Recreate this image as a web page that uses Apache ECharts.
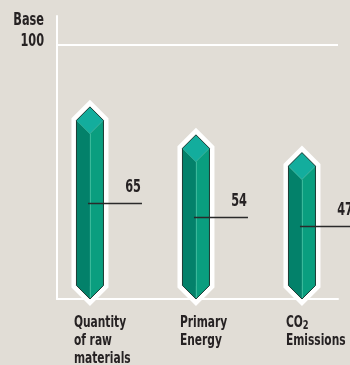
<!DOCTYPE html>
<html>
<head>
<meta charset="utf-8">
<script src="https://cdn.jsdelivr.net/npm/echarts@6/dist/echarts.min.js"></script>
<style>
html,body{margin:0;padding:0;background:#e1ddd6;}
#c{width:350px;height:365px;}
</style>
</head>
<body>
<div id="c"></div>
<script>
var categories = ['Quantity\nof raw\nmaterials', 'Primary\nEnergy', 'CO{sub|2}\nEmissions'];
var values = [65, 54, 47];
var baseLabel = 'Base';
var baseValue = 100;

var FONT = "'DejaVu Sans Condensed', 'DejaVu Sans', sans-serif";
var TXT = '#262223';
var SX = 0.74;
var X_MIN = -0.311, X_MAX = 2.34;

var chart = echarts.init(document.getElementById('c'), null, {renderer: 'canvas'});

var data = values.map(function (v, i) { return [i, v]; });

function renderItem(params, api) {
  var idx = api.value(0);
  var val = api.value(1);
  var f = api.coord([idx, val]);
  var b = api.coord([idx, 0]);
  var cx = f[0], yf = f[1], yb = b[1];
  var w = 13.5, d = 13.5;
  var hex = [[cx, yf - 2 * d], [cx + w, yf - d], [cx + w, yb - d], [cx, yb], [cx - w, yb - d], [cx - w, yf - d]];
  var midY = Math.round((yb + yf - 2 * d) / 2) + 0.5;
  var children = [
    {type: 'polygon', shape: {points: hex}, style: {fill: '#ffffff', stroke: '#ffffff', lineWidth: 10, lineJoin: 'miter', miterLimit: 2}},
    {type: 'polygon', shape: {points: [[cx - w, yf - d], [cx, yf], [cx, yb], [cx - w, yb - d]]}, style: {fill: '#03816a'}},
    {type: 'polygon', shape: {points: [[cx, yf], [cx + w, yf - d], [cx + w, yb - d], [cx, yb]]}, style: {fill: '#0a9e7f'}},
    {type: 'polygon', shape: {points: [[cx, yf - 2 * d], [cx + w, yf - d], [cx, yf], [cx - w, yf - d]]}, style: {fill: '#13ad9d'}},
    {type: 'line', shape: {x1: cx + 0.5, y1: yf, x2: cx + 0.5, y2: yb}, style: {stroke: '#3cbb9c', lineWidth: 1}},
    {type: 'line', shape: {x1: cx - w, y1: yf - d, x2: cx, y2: yf}, style: {stroke: '#2aa88f', lineWidth: 1}},
    {type: 'line', shape: {x1: cx, y1: yf, x2: cx + w, y2: yf - d}, style: {stroke: '#2aa88f', lineWidth: 1}},
    {type: 'polygon', shape: {points: hex}, style: {fill: null, stroke: '#1c3a32', lineWidth: 1}},
    {type: 'line', shape: {x1: cx - 2, y1: midY, x2: cx + 52, y2: midY}, style: {stroke: '#2a2a2a', lineWidth: 1.3}},
    {type: 'text', x: cx + 51, y: midY - 16, scaleX: SX, style: {text: String(val), fill: TXT, fontFamily: FONT, fontWeight: 'bold', fontSize: 17, align: 'right', verticalAlign: 'middle'}},
    {type: 'text', x: cx - 16, y: yb + 15, scaleX: SX, style: {
      text: categories[idx], fill: TXT, fontFamily: FONT, fontWeight: 'bold', fontSize: 16,
      align: 'left', verticalAlign: 'top', lineHeight: 18,
      rich: {sub: {fontSize: 12.5, fontWeight: 'bold', fontFamily: FONT, fill: TXT, lineHeight: 18, padding: [5, 0, 0, 0]}}
    }}
  ];
  if (idx === 0) {
    var p = api.coord([X_MIN, baseValue]);
    children.push({type: 'text', x: p[0] - 13, y: p[1] + 7, scaleX: SX, style: {
      text: baseLabel + '\n' + baseValue, fill: TXT, fontFamily: FONT, fontWeight: 'bold', fontSize: 17,
      align: 'right', verticalAlign: 'bottom', lineHeight: 21
    }});
  }
  return {type: 'group', children: children};
}

chart.setOption({
  backgroundColor: '#e1ddd6',
  animation: false,
  grid: {left: 57, right: 12, top: 16, bottom: 66},
  xAxis: {
    type: 'value', min: X_MIN, max: X_MAX,
    axisLine: {show: true, lineStyle: {color: '#ffffff', width: 2}},
    axisTick: {show: false}, axisLabel: {show: false}, splitLine: {show: false}
  },
  yAxis: {
    type: 'value', min: 0, max: 111.4, interval: 100,
    axisLine: {show: true, onZero: false, lineStyle: {color: '#ffffff', width: 2}},
    axisTick: {show: false}, splitLine: {show: false}, axisLabel: {show: false}
  },
  series: [{
    type: 'custom', renderItem: renderItem, data: data, clip: false,
    markLine: {
      silent: true, symbol: ['none', 'none'], label: {show: false},
      lineStyle: {color: '#ffffff', width: 2, type: 'solid'},
      data: [{yAxis: baseValue}]
    }
  }]
});
</script>
</body>
</html>
